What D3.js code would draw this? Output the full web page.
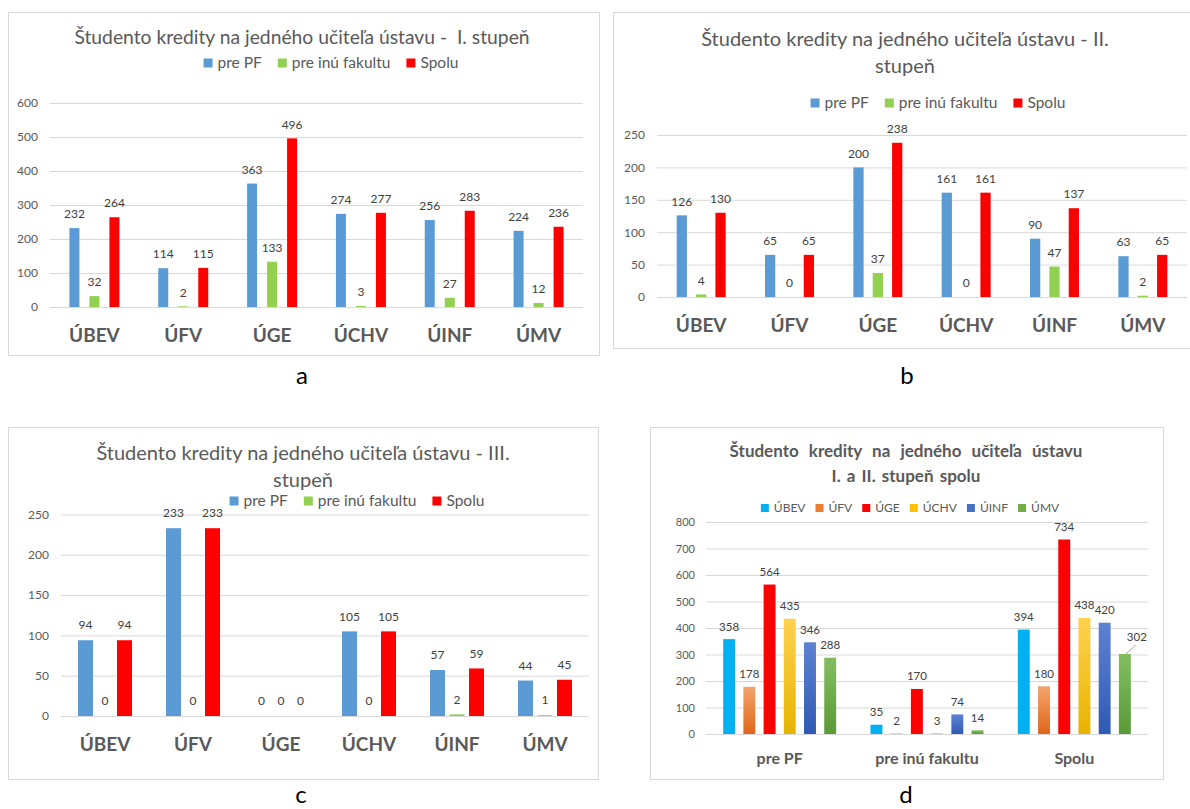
<!DOCTYPE html>
<html>
<head>
<meta charset="utf-8">
<script src="https://cdn.jsdelivr.net/npm/d3@7"></script>
<style>
  html, body { margin: 0; padding: 0; background: #fff; }
  svg { display: block; font-family: Lato, "Open Sans", sans-serif; }
  .title { white-space: pre; }
</style>
</head>
<body>
<svg id="chart" width="1190" height="809"></svg>
<script>
// Institutes (x categories of panels a–c, series of panel d)
const institutes = ["ÚBEV", "ÚFV", "ÚGE", "ÚCHV", "ÚINF", "ÚMV"];
// Credit types (series of panels a–c, x categories of panel d)
const creditTypes = ["pre PF", "pre inú fakultu", "Spolu"];

// I. stupeň
const stage1PrePF   = [232, 114, 363, 274, 256, 224];
const stage1Other   = [32, 2, 133, 3, 27, 12];
const stage1Total   = [264, 115, 496, 277, 283, 236];
const stage1Ticks   = [0, 100, 200, 300, 400, 500, 600];

// II. stupeň
const stage2PrePF   = [126, 65, 200, 161, 90, 63];
const stage2Other   = [4, 0, 37, 0, 47, 2];
const stage2Total   = [130, 65, 238, 161, 137, 65];
const stage2Ticks   = [0, 50, 100, 150, 200, 250];

// III. stupeň
const stage3PrePF   = [94, 233, 0, 105, 57, 44];
const stage3Other   = [0, 0, 0, 0, 2, 1];
const stage3Total   = [94, 233, 0, 105, 59, 45];
const stage3Ticks   = [0, 50, 100, 150, 200, 250];

// I. a II. stupeň spolu, per institute over credit types
const combinedUBEV  = [358, 35, 394];
const combinedUFV   = [178, 2, 180];
const combinedUGE   = [564, 170, 734];
const combinedUCHV  = [435, 3, 438];
const combinedUINF  = [346, 74, 420];
const combinedUMV   = [288, 14, 302];
const combinedTicks = [0, 100, 200, 300, 400, 500, 600, 700, 800];

const creditColors = ["#5b9bd5", "#92d050", "#ff0000"];
const instituteColors = ["#00b0f0", "#ed7d31", "#ff0000", "#ffc000", "#4472c4", "#70ad47"];
// top/bottom shades for the gradient-filled bars of panel d
const instituteShades = [
  ["#00b0f0", "#00b0f0"],
  ["#f4a36c", "#e0671a"],
  ["#ff0000", "#ff0000"],
  ["#ffd250", "#e7b300"],
  ["#5d82d3", "#2f5ab3"],
  ["#84bd60", "#5b9a38"]
];

const TEXT = "#595959";
const LABEL = "#404040";
const GRID = "#d9d9d9";

const svg = d3.select("#chart");

const defs = svg.append("defs");
instituteShades.forEach((s, i) => {
  const lg = defs.append("linearGradient")
    .attr("id", "grad" + i).attr("x1", 0).attr("y1", 0).attr("x2", 0).attr("y2", 1);
  lg.append("stop").attr("offset", "0%").attr("stop-color", s[0]);
  lg.append("stop").attr("offset", "100%").attr("stop-color", s[1]);
});

function drawPanel(o) {
  const g = svg.append("g");

  // frame
  g.append("rect")
    .attr("x", o.box[0] + 0.5).attr("y", o.box[1] + 0.5)
    .attr("width", o.box[2] - o.box[0]).attr("height", o.box[3] - o.box[1])
    .attr("fill", "#fff").attr("stroke", GRID).attr("stroke-width", 1);

  // title
  o.title.forEach((line, i) => {
    g.append("text")
      .attr("class", "title")
      .attr("x", o.titleX).attr("y", o.titleY[i])
      .attr("dy", "0.35em")
      .attr("text-anchor", "middle")
      .attr("fill", TEXT)
      .attr("font-size", o.titleSize)
      .attr("font-weight", o.titleBold ? "bold" : "normal")
      .attr("word-spacing", (o.titleWordSpacing || [])[i] || 0)
      .text(line);
  });

  // legend, centred on legendX
  const lgd = g.append("g");
  let cursor = 0;
  o.series.forEach((name, i) => {
    lgd.append("rect")
      .attr("x", cursor).attr("y", o.legendY - o.swatch / 2)
      .attr("width", o.swatch).attr("height", o.swatch)
      .attr("fill", o.legendColors[i]);
    const t = lgd.append("text")
      .attr("x", cursor + o.swatch + 5).attr("y", o.legendY)
      .attr("dy", "0.35em")
      .attr("fill", TEXT)
      .attr("font-size", o.legendSize)
      .text(name);
    cursor += o.swatch + 5 + t.node().getComputedTextLength() + o.legendGap;
  });
  const legendW = cursor - o.legendGap;
  lgd.attr("transform", `translate(${o.legendX - legendW / 2},0)`);

  // scales
  const y = d3.scaleLinear().domain([0, d3.max(o.ticks)]).range([o.plot[3], o.plot[1]]);
  const x = d3.scaleBand().domain(o.categories).range([o.plot[0], o.plot[2]]);
  const inner = d3.scaleBand().domain(o.series)
    .range([-o.groupW / 2, o.groupW / 2])
    .paddingInner(o.innerPad).paddingOuter(0);

  // gridlines + y tick labels
  const yAxis = g.append("g")
    .attr("transform", `translate(${o.plot[0]},0)`)
    .call(d3.axisLeft(y).tickValues(o.ticks).tickFormat(d3.format("d"))
      .tickSizeInner(-(o.plot[2] - o.plot[0])).tickSizeOuter(0).tickPadding(o.tickPad));
  yAxis.select(".domain").remove();
  yAxis.selectAll(".tick line").attr("stroke", GRID).attr("stroke-width", 1);
  yAxis.selectAll(".tick text")
    .attr("fill", TEXT).attr("font-size", o.tickSize)
    .attr("font-family", "Lato, sans-serif");

  // category axis
  const xAxis = g.append("g")
    .attr("transform", `translate(0,${o.catY})`)
    .call(d3.axisBottom(x).tickSize(0).tickPadding(0));
  xAxis.select(".domain").remove();
  xAxis.selectAll(".tick text")
    .attr("y", 0).attr("dy", "0.35em")
    .attr("fill", TEXT).attr("font-size", o.catSize).attr("font-weight", "bold")
    .attr("font-family", "Lato, sans-serif");

  // bars and value labels
  o.series.forEach((s, si) => {
    const vals = o.values[si];
    const cx = c => x(c) + x.bandwidth() / 2 + inner(s);
    g.append("g").selectAll("rect")
      .data(o.categories.map((c, ci) => ({ c, v: vals[ci] })))
      .join("rect")
      .attr("x", d => cx(d.c))
      .attr("y", d => y(d.v))
      .attr("width", inner.bandwidth())
      .attr("height", d => y(0) - y(d.v))
      .attr("fill", o.barFill(si));
    g.append("g").selectAll("text")
      .data(o.categories.map((c, ci) => ({ c, v: vals[ci] })))
      .join("text")
      .attr("x", d => cx(d.c) + inner.bandwidth() / 2 + (o.labelShift(si, d.c) || [0, 0])[0])
      .attr("y", d => y(d.v) - o.labelGap + (o.labelShift(si, d.c) || [0, 0])[1])
      .attr("dy", "0.35em")
      .attr("text-anchor", "middle")
      .attr("fill", LABEL)
      .attr("font-size", o.valueSize)
      .text(d => d.v);
  });

  // caption letter below the frame
  svg.append("text")
    .attr("x", o.caption[1]).attr("y", o.caption[2])
    .attr("dy", "0.35em")
    .attr("text-anchor", "middle")
    .attr("fill", "#000")
    .attr("font-size", 24)
    .text(o.caption[0]);

  return { g, x, y, inner };
}

const common = {
  titleSize: 20, legendSize: 15.5, swatch: 9, legendGap: 16,
  tickSize: 12, tickPad: 12, catSize: 19, valueSize: 12, labelGap: 14,
  labelShift: () => null
};

// a — I. stupeň
drawPanel(Object.assign({}, common, {
  box: [8, 12, 599, 355],
  title: ["Študento kredity na jedného učiteľa ústavu -  I. stupeň"],
  titleX: 302, titleY: [37], titleSize: 19.3,
  legendX: 331, legendY: 63,
  series: creditTypes, legendColors: creditColors,
  categories: institutes,
  values: [stage1PrePF, stage1Other, stage1Total],
  ticks: stage1Ticks,
  plot: [50, 103, 583, 307],
  groupW: 50, innerPad: 0.5,
  catY: 335,
  barFill: i => creditColors[i],
  caption: ["a", 302, 376]
}));

// b — II. stupeň
drawPanel(Object.assign({}, common, {
  box: [613, 12, 1196, 348],
  title: ["Študento kredity na jedného učiteľa ústavu - II.", "stupeň"],
  titleX: 905, titleY: [39, 66],
  legendX: 938, legendY: 103,
  series: creditTypes, legendColors: creditColors,
  categories: institutes,
  values: [stage2PrePF, stage2Other, stage2Total],
  ticks: stage2Ticks,
  plot: [657, 135, 1187, 297],
  groupW: 49, innerPad: 0.47,
  catY: 325,
  barFill: i => creditColors[i],
  caption: ["b", 907, 376]
}));

// c — III. stupeň
drawPanel(Object.assign({}, common, {
  box: [8, 427, 598, 779],
  title: ["Študento kredity na jedného učiteľa ústavu - III.", "stupeň"],
  titleX: 303, titleY: [453, 480],
  legendX: 357, legendY: 501,
  series: creditTypes, legendColors: creditColors,
  categories: institutes,
  values: [stage3PrePF, stage3Other, stage3Total],
  ticks: stage3Ticks,
  plot: [61, 514.5, 589, 716],
  groupW: 54, innerPad: 0.23, labelGap: 15,
  catY: 744,
  barFill: i => creditColors[i],
  caption: ["c", 301, 795]
}));

// d — I. a II. stupeň spolu
const combined = [combinedUBEV, combinedUFV, combinedUGE, combinedUCHV, combinedUINF, combinedUMV];
const pd = drawPanel(Object.assign({}, common, {
  box: [650, 427, 1163, 779],
  title: ["Študento kredity na jedného učiteľa ústavu", "I. a II. stupeň spolu"],
  titleX: 906, titleY: [451, 476], titleSize: 17, titleBold: true, titleWordSpacing: [6, 2],
  legendX: 910, legendY: 508, legendSize: 12, swatch: 8, legendGap: 10,
  series: institutes, legendColors: instituteColors,
  categories: creditTypes,
  values: combined,
  ticks: combinedTicks,
  plot: [706, 522, 1148, 734],
  groupW: 113, innerPad: 0.41, tickSize: 11, tickPad: 11, valueSize: 11.5, labelGap: 12.5,
  catY: 758, catSize: 16,
  barFill: i => `url(#grad${i})`,
  labelShift: (si, c) => (si === 5 && c === "Spolu") ? [12, -4] : null,
  caption: ["d", 906, 795]
}));

// leader line for the shifted "302" label
{
  const bx = pd.x("Spolu") + pd.x.bandwidth() / 2 + pd.inner("ÚMV") + pd.inner.bandwidth() / 2;
  const by = pd.y(combinedUMV[2]);
  pd.g.append("line")
    .attr("x1", bx + 1).attr("y1", by)
    .attr("x2", bx + 11).attr("y2", by - 9)
    .attr("stroke", "#a6a6a6").attr("stroke-width", 1);
}
</script>
</body>
</html>
